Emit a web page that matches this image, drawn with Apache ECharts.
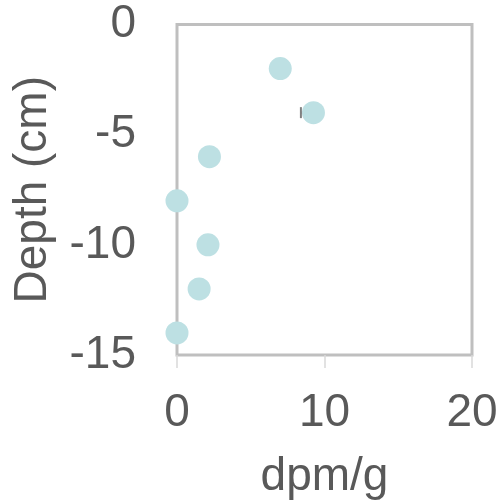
<!DOCTYPE html>
<html>
<head>
<meta charset="utf-8">
<script src="https://cdn.jsdelivr.net/npm/echarts@6/dist/echarts.min.js"></script>
<style>html,body{margin:0;padding:0;background:#fff}#c{width:502px;height:502px}</style>
</head>
<body>
<div id="c"></div>
<script>
var dpm = [7.0, 9.25, 2.2, 0.0, 2.1, 1.5, 0.0];
var depth = [-2, -4, -6, -8, -10, -12, -14];
var errMinus = [0, 0.85, 0, 0, 0, 0, 0];
var xTicks = [0, 10, 20];
var yTicks = [0, -5, -10, -15];

var chart = echarts.init(document.getElementById('c'));
var pts = dpm.map(function (v, i) { return [v, depth[i]]; });
var errData = [];
dpm.forEach(function (v, i) { if (errMinus[i] > 0) errData.push([v - errMinus[i], v, depth[i]]); });

var txt = '#595959';
var fs = 46;
chart.setOption({
  animation: false,
  grid: { left: 177, right: 30, top: 24.5, bottom: 147, show: true, borderColor: '#bfbfbf', borderWidth: 3, backgroundColor: '#fff', containLabel: false, outerBoundsMode: 'none' },
  xAxis: {
    type: 'value', min: xTicks[0], max: xTicks[xTicks.length - 1], interval: 10,
    name: 'dpm/g', nameLocation: 'middle', nameGap: 99,
    nameTextStyle: { color: txt, fontSize: fs, fontFamily: 'Liberation Sans' },
    axisLine: { show: false, onZero: false },
    axisTick: { show: true, length: 13, lineStyle: { color: '#d9d9d9', width: 1.5 } },
    splitLine: { show: false },
    axisLabel: { color: txt, fontSize: fs, fontFamily: 'Liberation Sans', margin: 35 }
  },
  yAxis: {
    type: 'value', min: yTicks[yTicks.length - 1], max: yTicks[0], interval: 5,
    name: 'Depth (cm)', nameLocation: 'middle', nameGap: 121, nameRotate: 90,
    nameTextStyle: { color: txt, fontSize: fs, fontFamily: 'Liberation Sans' },
    axisLine: { show: false, onZero: false },
    axisTick: { show: false },
    splitLine: { show: false },
    axisLabel: { color: txt, fontSize: fs, fontFamily: 'Liberation Sans', margin: 41 }
  },
  series: [
    {
      type: 'custom',
      z: 1,
      data: errData,
      renderItem: function (params, api) {
        var lo = api.coord([api.value(0), api.value(2)]);
        var c = api.coord([api.value(1), api.value(2)]);
        var st = { stroke: '#808080', lineWidth: 2 };
        return { type: 'group', children: [
          { type: 'line', shape: { x1: lo[0], y1: lo[1], x2: c[0], y2: c[1] }, style: st },
          { type: 'line', shape: { x1: lo[0], y1: lo[1] - 5.5, x2: lo[0], y2: lo[1] + 5.5 }, style: st }
        ] };
      }
    },
    {
      type: 'scatter',
      z: 3,
      clip: false,
      symbol: 'circle',
      symbolSize: 23,
      itemStyle: { color: '#bde0e3', opacity: 1 },
      data: pts
    }
  ]
});
</script>
</body>
</html>
